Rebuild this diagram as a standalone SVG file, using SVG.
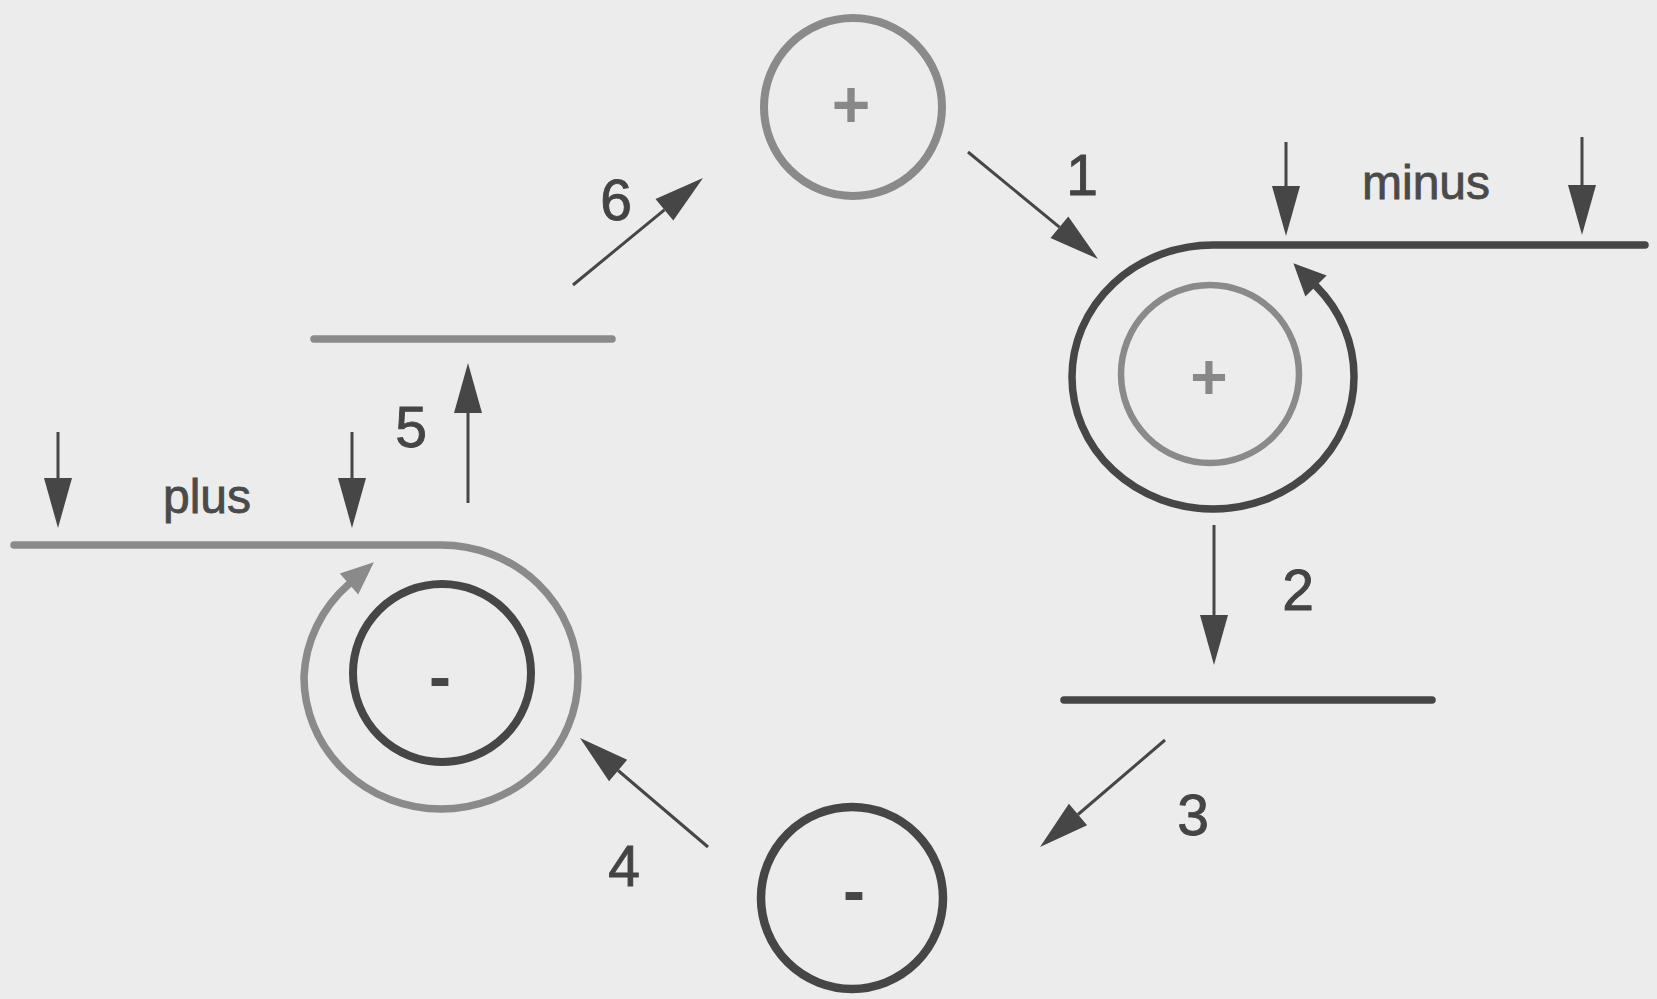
<svg xmlns="http://www.w3.org/2000/svg" width="1657" height="999" viewBox="0 0 1657 999">
  <style>
    .bg { fill: #ececec; }
    .dark { stroke: #464646; fill: none; }
    .gray { stroke: #8a8a8a; fill: none; }
    .strand { stroke-width: 7.5; stroke-linecap: round; }
    .ring { stroke-width: 8; }
    .arr { stroke: #464646; stroke-width: 3; fill: none; marker-end: url(#ah); }
    .lbl { font-family: "Liberation Sans", Arial, sans-serif; font-size: 57px; fill: #444444; stroke: #444444; stroke-width: 0.9; text-anchor: middle; }
    .word { font-family: "Liberation Sans", Arial, sans-serif; font-size: 48px; fill: #4a4a4a; stroke: #4a4a4a; stroke-width: 0.8; }
    .sign { font-family: "Liberation Sans", Arial, sans-serif; font-weight: bold; text-anchor: middle; }
  </style>
  <defs>
    <marker id="ah" markerUnits="userSpaceOnUse" viewBox="0 -14 50 28" markerWidth="50" markerHeight="28" refX="0" refY="0" orient="auto" overflow="visible">
      <path d="M0,-14 L50,0 L0,14 Z" fill="#464646"/>
    </marker>
    <marker id="ahcd" markerUnits="userSpaceOnUse" viewBox="0 -15 32 30" markerWidth="32" markerHeight="30" refX="0" refY="0" orient="auto" overflow="visible">
      <path d="M0,-15 L32,0 L0,15 Z" fill="#464646"/>
    </marker>
    <marker id="ahcg" markerUnits="userSpaceOnUse" viewBox="0 -14 33 28" markerWidth="33" markerHeight="28" refX="0" refY="0" orient="auto" overflow="visible">
      <path d="M0,-14 L33,0 L0,14 Z" fill="#8a8a8a"/>
    </marker>
  </defs>
  <rect class="bg" x="0" y="0" width="1657" height="999"/>

  <g id="node-top-plus">
    <circle class="gray ring" cx="853" cy="107" r="89"/>
    <text class="sign" x="851" y="127" font-size="66" fill="#888888">+</text>
  </g>

  <g id="node-right-minus-strand">
    <path class="dark strand" d="M1645 245 L1213 245 A141 132 0 0 0 1072 377 A141 132 0 0 0 1213 509 A141 132 0 0 0 1354 377 A141 132 0 0 0 1316 286" marker-end="url(#ahcd)"/>
    <circle class="gray" stroke-width="6.5" cx="1210" cy="374" r="89"/>
    <text class="sign" x="1209" y="399" font-size="64" fill="#888888">+</text>
    <text class="word" x="1362" y="199">minus</text>
    <line class="arr" x1="1286" y1="142" x2="1286" y2="186"/>
    <line class="arr" x1="1582" y1="137" x2="1582" y2="185"/>
  </g>

  <g id="node-right-line">
    <line class="dark strand" x1="1064" y1="700" x2="1432" y2="700"/>
  </g>

  <g id="node-bottom-minus">
    <circle class="dark" stroke-width="8.5" cx="852" cy="898" r="91"/>
    <text class="sign" x="854" y="913" font-size="66" fill="#464646">-</text>
  </g>

  <g id="node-left-plus-strand">
    <path class="gray strand" d="M14 545 L441 545 A137 132 0 0 1 578 677 A137 132 0 0 1 441 809 A137 132 0 0 1 304 677 A137 132 0 0 1 349 584" marker-end="url(#ahcg)"/>
    <circle class="dark ring" cx="442" cy="673" r="89"/>
    <text class="sign" x="440" y="699" font-size="66" fill="#464646">-</text>
    <text class="word" x="163" y="513">plus</text>
    <line class="arr" x1="58" y1="432" x2="58" y2="478"/>
    <line class="arr" x1="352" y1="432" x2="352" y2="478"/>
  </g>

  <g id="node-left-line">
    <line class="gray strand" x1="314" y1="339" x2="612" y2="339"/>
  </g>

  <g id="connectors">
    <line class="arr" x1="968" y1="152" x2="1059.4" y2="227.2"/>
    <line class="arr" x1="1214" y1="525" x2="1214" y2="615"/>
    <line class="arr" x1="1165" y1="740" x2="1078" y2="814.5"/>
    <line class="arr" x1="708" y1="847" x2="618.1" y2="770.5"/>
    <line class="arr" x1="468" y1="503" x2="468" y2="413"/>
    <line class="arr" x1="573" y1="285" x2="664.4" y2="209.8"/>
    <text class="lbl" x="1082" y="195">1</text>
    <text class="lbl" x="1298" y="610">2</text>
    <text class="lbl" x="1193" y="835">3</text>
    <text class="lbl" x="624" y="886">4</text>
    <text class="lbl" x="411" y="447">5</text>
    <text class="lbl" x="616" y="220">6</text>
  </g>
</svg>
